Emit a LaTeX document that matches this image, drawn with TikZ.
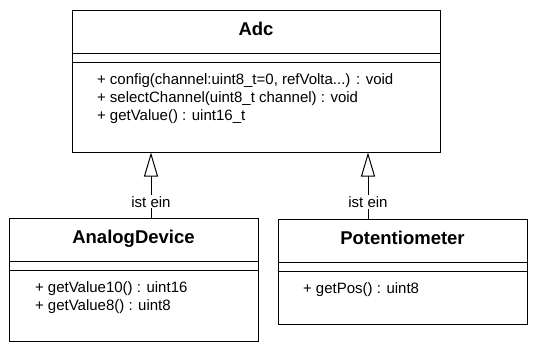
\documentclass[tikz,border=0pt]{standalone}
\usepackage{fontspec}
\setsansfont{Liberation Sans}
\usetikzlibrary{arrows.meta, positioning}
\tikzset{
  every picture/.style={font=\sffamily, line width=1pt, x=1pt, y=-1pt},
  classbox/.style={draw, anchor=north west, inner sep=0pt, minimum width=#1},
  classbox/.default=249pt,
  classname/.style={font=\sffamily\bfseries\fontsize{18.5}{22}\selectfont, anchor=base, inner sep=0pt},
  member/.style={font=\sffamily\fontsize{15}{18}\selectfont, anchor=base west, inner sep=0pt},
  inherit/.style={-{Triangle[open, length=24pt, width=14pt]}, line width=1pt},
  islabel/.style={font=\sffamily\fontsize{15}{18}\selectfont, fill=white, inner sep=1pt},
}
\begin{document}
\begin{tikzpicture}
  \useasboundingbox (0,0) rectangle (544,348);
  % the three classes
  \node[classbox=368pt, minimum height=142pt] (adc) at (71.5,9.5) {};
  \node[classbox, minimum height=123pt] (analog) at (8.5,217.5) {};
  \node[classbox, minimum height=105pt] (poti) at (277.5,218.5) {};
  \foreach \cls/\name in {adc/Adc, analog/AnalogDevice, poti/Potentiometer} {
    \node[classname] (\cls-title) at ([yshift=-26pt]\cls.north) {\name};
    \draw ([yshift=-43.5pt]\cls.north west) -- ([yshift=-43.5pt]\cls.north east);
    \draw ([yshift=-53pt]\cls.north west) -- ([yshift=-53pt]\cls.north east);
  }
  % operations
  \node[member] (adc-op1) at ([xshift=25pt, yshift=-75pt]adc.north west) {+ config(channel:uint8\_t=0, refVolta...) : void};
  \node[member, below=18pt of adc-op1.base west, anchor=base west] (adc-op2) {+ selectChannel(uint8\_t channel) : void};
  \node[member, below=18pt of adc-op2.base west, anchor=base west] (adc-op3) {+ getValue() : uint16\_t};
  \node[member] (analog-op1) at ([xshift=26pt, yshift=-75pt]analog.north west) {+ getValue10() : uint16};
  \node[member, below=18pt of analog-op1.base west, anchor=base west] (analog-op2) {+ getValue8() : uint8};
  \node[member] (poti-op1) at ([xshift=25pt, yshift=-75pt]poti.north west) {+ getPos() : uint8};
  % generalisations
  \draw[inherit] ([xshift=17.5pt]analog.north) -- node[islabel, pos=0.24] {ist ein} ([xshift=17.5pt]analog.north |- adc.south);
  \draw[inherit] ([xshift=-34.5pt]poti.north) -- node[islabel, pos=0.25] {ist ein} ([xshift=-34.5pt]poti.north |- adc.south);
\end{tikzpicture}
\end{document}
